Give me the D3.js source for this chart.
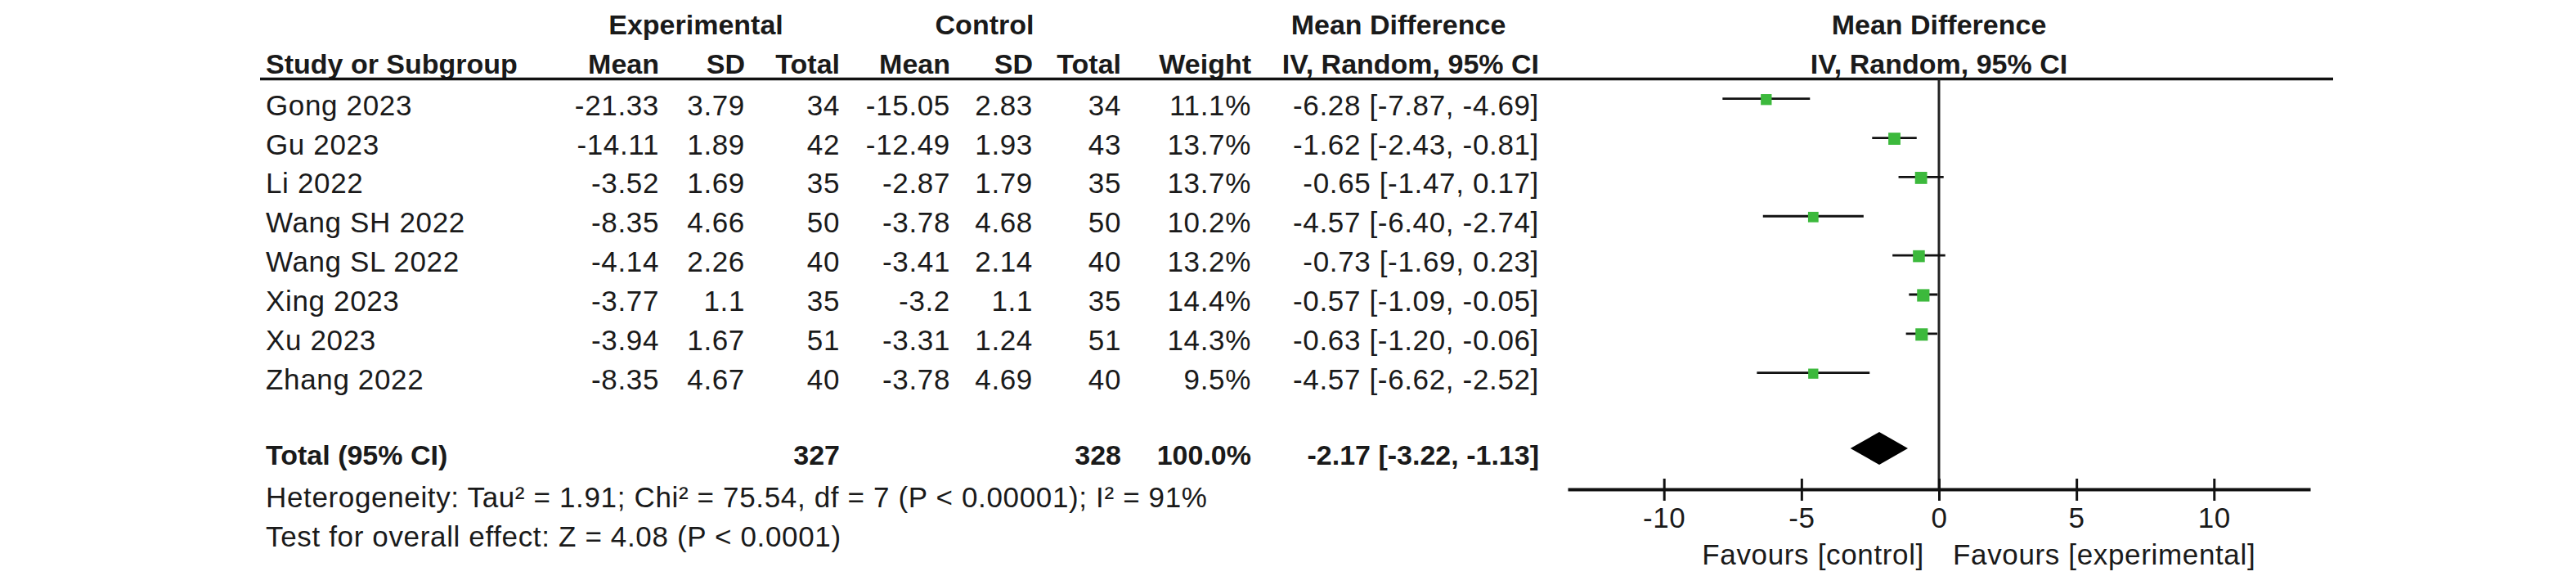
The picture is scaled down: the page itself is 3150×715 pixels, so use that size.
<!DOCTYPE html>
<html>
<head>
<meta charset="utf-8">
<script src="https://cdn.jsdelivr.net/npm/d3@7"></script>
<style>
  html, body { margin: 0; padding: 0; background: #ffffff; }
  svg { display: block; }
  text { font-family: "Liberation Sans", Arial, sans-serif; fill: #1a1a1a; }
</style>
</head>
<body>
<script>
// ---------- data ----------
const studies  = ["Gong 2023", "Gu 2023", "Li 2022", "Wang SH 2022", "Wang SL 2022", "Xing 2023", "Xu 2023", "Zhang 2022"];
const expMean  = ["-21.33", "-14.11", "-3.52", "-8.35", "-4.14", "-3.77", "-3.94", "-8.35"];
const expSD    = ["3.79", "1.89", "1.69", "4.66", "2.26", "1.1", "1.67", "4.67"];
const expTotal = [34, 42, 35, 50, 40, 35, 51, 40];
const ctlMean  = ["-15.05", "-12.49", "-2.87", "-3.78", "-3.41", "-3.2", "-3.31", "-3.78"];
const ctlSD    = ["2.83", "1.93", "1.79", "4.68", "2.14", "1.1", "1.24", "4.69"];
const ctlTotal = [34, 43, 35, 50, 40, 35, 51, 40];
const weights  = [11.1, 13.7, 13.7, 10.2, 13.2, 14.4, 14.3, 9.5];
const md       = [-6.28, -1.62, -0.65, -4.57, -0.73, -0.57, -0.63, -4.57];
const ciLow    = [-7.87, -2.43, -1.47, -6.40, -1.69, -1.09, -1.20, -6.62];
const ciHigh   = [-4.69, -0.81, 0.17, -2.74, 0.23, -0.05, -0.06, -2.52];

const totalExp = 327, totalCtl = 328, totalWeight = 100.0;
const pooled = { est: -2.17, lo: -3.22, hi: -1.13 };

const axisTicks = [-10, -5, 0, 5, 10];
const heterogeneityText = "Heterogeneity: Tau\u00B2 = 1.91; Chi\u00B2 = 75.54, df = 7 (P < 0.00001); I\u00B2 = 91%";
const overallText = "Test for overall effect: Z = 4.08 (P < 0.0001)";
const favoursLeft = "Favours [control]";
const favoursRight = "Favours [experimental]";

// ---------- layout ----------
const W = 3150, H = 715;
const FS = 35, FSB = 34;
const colX = { study: 325, eMean: 806, eSD: 911, eTot: 1027, cMean: 1162, cSD: 1263, cTot: 1371, weight: 1530, ci: 1882 };

const svg = d3.select("body").append("svg").attr("width", W).attr("height", H);

const x = d3.scaleLinear().domain([-13.5, 13.5]).range([1917, 2825]);
const y = d3.scaleLinear().domain([0, studies.length - 1]).range([120.7, 455.7]);
const sq = d3.scaleSqrt().domain([0, 100]).range([0, 40]);

const locale = d3.formatLocale({ decimal: ".", thousands: ",", grouping: [3], currency: ["", ""], minus: "-" });
const fmt2 = locale.format(".2f");
const fmtW = v => locale.format(".1f")(v) + "%";
const ciStr = (m, l, h) => `${fmt2(m)} [${fmt2(l)}, ${fmt2(h)}]`;

function txt(g, s, xx, yy, anchor, bold) {
  return g.append("text").attr("x", xx).attr("y", yy)
    .attr("text-anchor", anchor || "start")
    .style("font-size", (bold ? FSB : FS) + "px")
    .style("font-weight", bold ? "bold" : "normal")
    .style("letter-spacing", bold ? "0px" : "0.65px")
    .text(s);
}

// ---------- headers ----------
const hdr = svg.append("g");
const h1 = 42, h2 = 90;
txt(hdr, "Experimental", 851, h1, "middle", true);
txt(hdr, "Control", 1204, h1, "middle", true);
txt(hdr, "Mean Difference", 1710, h1, "middle", true);
txt(hdr, "Mean Difference", x(0), h1, "middle", true);

txt(hdr, "Study or Subgroup", colX.study, h2, "start", true);
txt(hdr, "Mean", colX.eMean, h2, "end", true);
txt(hdr, "SD", colX.eSD, h2, "end", true);
txt(hdr, "Total", colX.eTot, h2, "end", true);
txt(hdr, "Mean", colX.cMean, h2, "end", true);
txt(hdr, "SD", colX.cSD, h2, "end", true);
txt(hdr, "Total", colX.cTot, h2, "end", true);
txt(hdr, "Weight", colX.weight, h2, "end", true);
txt(hdr, "IV, Random, 95% CI", colX.ci, h2, "end", true);
txt(hdr, "IV, Random, 95% CI", x(0), h2, "middle", true);

const lineY = 96.5;
svg.append("line").attr("x1", 318).attr("x2", 2853).attr("y1", lineY).attr("y2", lineY)
  .attr("stroke", "#111").attr("stroke-width", 3.5);

// ---------- rows ----------
const rows = svg.append("g");
studies.forEach((s, i) => {
  const by = y(i) + 20;
  txt(rows, s, colX.study, by);
  txt(rows, expMean[i], colX.eMean, by, "end");
  txt(rows, expSD[i], colX.eSD, by, "end");
  txt(rows, expTotal[i], colX.eTot, by, "end");
  txt(rows, ctlMean[i], colX.cMean, by, "end");
  txt(rows, ctlSD[i], colX.cSD, by, "end");
  txt(rows, ctlTotal[i], colX.cTot, by, "end");
  txt(rows, fmtW(weights[i]), colX.weight, by, "end");
  txt(rows, ciStr(md[i], ciLow[i], ciHigh[i]), colX.ci, by, "end");
});

// total row
const totY = 548, totBase = 568;
txt(rows, "Total (95% CI)", colX.study, totBase, "start", true);
txt(rows, totalExp, colX.eTot, totBase, "end", true);
txt(rows, totalCtl, colX.cTot, totBase, "end", true);
txt(rows, fmtW(totalWeight), colX.weight, totBase, "end", true);
txt(rows, ciStr(pooled.est, pooled.lo, pooled.hi), colX.ci, totBase, "end", true);

txt(rows, heterogeneityText, colX.study, 620);
txt(rows, overallText, colX.study, 668);

// ---------- plot ----------
const axisY = 598;
const plot = svg.append("g");

// zero line
plot.append("line").attr("x1", x(0)).attr("x2", x(0)).attr("y1", lineY).attr("y2", axisY)
  .attr("stroke", "#222").attr("stroke-width", 3);

// CI lines
plot.selectAll("line.ci").data(studies).enter().append("line").attr("class", "ci")
  .attr("x1", (d, i) => x(ciLow[i])).attr("x2", (d, i) => x(ciHigh[i]))
  .attr("y1", (d, i) => y(i)).attr("y2", (d, i) => y(i))
  .attr("stroke", "#111").attr("stroke-width", 2.8);

// squares
plot.selectAll("rect.sq").data(studies).enter().append("rect").attr("class", "sq")
  .attr("x", (d, i) => x(md[i]) - sq(weights[i]) / 2)
  .attr("y", (d, i) => y(i) + 1 - sq(weights[i]) / 2)
  .attr("width", (d, i) => sq(weights[i]))
  .attr("height", (d, i) => sq(weights[i]))
  .attr("fill", "#3cb93c");

// diamond
const dh = 20;
plot.append("path")
  .attr("d", `M${x(pooled.lo)},${totY} L${x(pooled.est)},${totY - dh} L${x(pooled.hi)},${totY} L${x(pooled.est)},${totY + dh} Z`)
  .attr("fill", "#000");

// axis
const axis = d3.axisBottom(x).tickValues(axisTicks).tickSizeOuter(0).tickSizeInner(14).tickPadding(10)
  .tickFormat(locale.format("d"));
const ag = plot.append("g").attr("transform", `translate(0,${axisY})`).call(axis);
ag.select(".domain").attr("stroke", "#111").attr("stroke-width", 4);
ag.selectAll(".tick line").attr("y1", -13).attr("y2", 14).attr("stroke", "#111").attr("stroke-width", 3);
ag.selectAll(".tick text").attr("y", 0).attr("dy", null)
  .attr("transform", "translate(0,47)")
  .style("font-size", FS + "px").style("letter-spacing", "0.65px")
  .style("font-family", "'Liberation Sans', Arial, sans-serif").attr("fill", "#1a1a1a");

txt(plot, favoursLeft, x(0) - 18, 690, "end");
txt(plot, favoursRight, x(0) + 17, 690, "start");
</script>
</body>
</html>
